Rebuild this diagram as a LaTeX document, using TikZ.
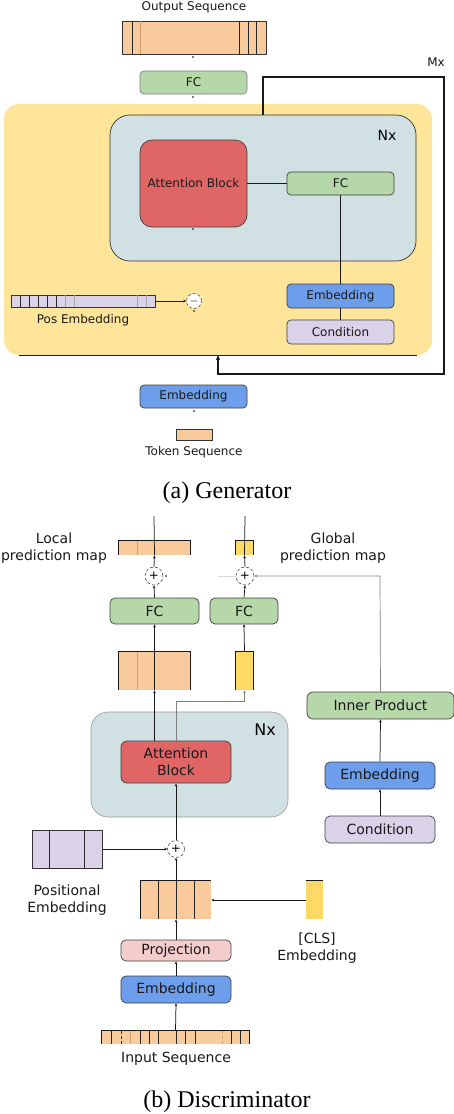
\documentclass[tikz,border=0pt]{standalone}
\usepackage{fontspec}
\setmainfont{DejaVu Sans}
\newfontfamily\capfont{Liberation Serif}
\usetikzlibrary{arrows.meta}
\definecolor{corange}{HTML}{F9CB9C}
\definecolor{cgreen}{HTML}{B6D7A8}
\definecolor{cblue}{HTML}{6D9EEB}
\definecolor{clav}{HTML}{D9D2E9}
\definecolor{cred}{HTML}{E06666}
\definecolor{cpink}{HTML}{F4CCCC}
\definecolor{cyel}{HTML}{FFD966}
\definecolor{clyel}{HTML}{FFE599}
\definecolor{cgb}{HTML}{D0E0E3}
\definecolor{ctan}{HTML}{C8A070}
\tikzset{
  box/.style={draw=black!75, line width=0.7pt, rounded corners=4pt, inner sep=0pt, align=center},
  gtxt/.style={font=\fontsize{12}{14}\selectfont, text=black!90},
  dtxt/.style={font=\fontsize{14}{17}\selectfont, text=black!90},
  bar/.style={draw=black!80, line width=0.7pt, inner sep=0pt},
  cell/.style={draw=black!85, line width=0.7pt},
  conn/.style={draw=black!90, line width=0.75pt},
  gconn/.style={draw=black!50, line width=0.7pt},
  arr/.style={-{Stealth[length=3pt,width=2.6pt]}},
  opc/.style={circle, draw=black!80, densely dashed, line width=0.5pt, fill=white, minimum size=#1, inner sep=0pt, font=\fontsize{12}{12}\selectfont},
  lbl/.style={inner sep=0pt, align=center},
}
\begin{document}
\begin{tikzpicture}[x=1pt,y=-1pt]
\useasboundingbox (0,0) rectangle (454,1114);

% ================= Generator =================
\node[lbl, gtxt] (outtxt) at (194,7) {Output Sequence};
\node[bar, fill=corange, minimum width=144pt, minimum height=33pt] (outseq) at (194,37.5) {};
\foreach \x in {132,239,248,256} \draw[cell] (\x,21) -- (\x,54);
\draw[draw=ctan, line width=0.6pt] (140,21) -- (140,54);
\node[box, gtxt, fill=cgreen, draw=black!50, minimum width=107pt, minimum height=23pt] (genfc) at (193.5,82.5) {FC};

\node[fill=clyel, rounded corners=15pt, minimum width=428pt, minimum height=251pt, inner sep=0pt] (yel) at (218,229.5) {};
\draw[conn] (19,355) -- (417,355);
\node[fill=cgb, draw=black!80, line width=0.7pt, rounded corners=20pt, minimum width=306pt, minimum height=146pt, inner sep=0pt] (nx) at (263,188) {};
\node[lbl, font=\fontsize{14}{14}\selectfont] (nxl) at (387,135) {Nx};
\node[box, gtxt, fill=cred, rounded corners=12pt, minimum width=107pt, minimum height=87pt] (attn) at (193.5,183.5) {Attention Block};
\node[box, gtxt, fill=cgreen, minimum width=107pt, minimum height=23pt] (fc2) at (340.5,183.5) {FC};
\node[box, gtxt, fill=cblue, minimum width=107pt, minimum height=24pt] (emb2) at (340.5,296) {Embedding};
\node[box, gtxt, fill=clav, minimum width=107pt, minimum height=24pt] (cond) at (340.5,332) {Condition};
\draw[conn] (attn.east) -- (fc2.west);
\draw[conn] (fc2.south) -- (emb2.north);
\draw[conn] (emb2.south) -- (cond.north);

\node[bar, fill=clav, minimum width=144pt, minimum height=12pt] (posbar) at (83,301) {};
\foreach \x in {20,29,38,47,56} \draw[cell] (\x,295) -- (\x,307);
\foreach \x in {65,74,137,146} \draw[draw=black!35, line width=0.6pt] (\x,295) -- (\x,307);
\node[lbl, gtxt] (posl) at (83,320) {Pos Embedding};
\node[opc=15pt] (minus) at (194,301) {$-$};
\draw[conn, arr] (posbar.east) -- (minus.west);

\node[box, gtxt, fill=cblue, minimum width=107pt, minimum height=23pt] (emb1) at (193.5,396.5) {Embedding};
\node[bar, fill=corange, minimum width=36pt, minimum height=11pt] (tok) at (194,434.5) {};
\node[lbl, gtxt] (tokl) at (194,452) {Token Sequence};

\coordinate (mxa) at (444,77);
\coordinate (mxb) at (444,374);
\draw[line width=1.3pt, draw=black!90, -{Stealth[length=5pt,width=4.5pt]}] (nx.north) |- (mxa) -- (mxb) -| (yel.south);
\node[lbl, gtxt] (mxl) at (436,62) {Mx};

\foreach \p in {(193,57),(193,97),(193,229),(194,311),(194,411)} \fill[black] \p circle (0.9);

\node[lbl, font=\capfont\fontsize{24}{28}\selectfont] (capa) at (227,493) {(a) Generator};

% ================= Discriminator =================
\coordinate (topL) at (154,516);
\coordinate (topG) at (245,516);
\node[bar, fill=corange, draw=none, minimum width=71pt, minimum height=14pt] (lmap) at (154.5,548) {};
\draw[conn] (lmap.south west) -- (lmap.north west) -- (lmap.north east) -- (lmap.south east);
\draw[draw=ctan, line width=0.6pt] (137,541) -- (137,555);
\node[bar, fill=cyel, draw=none, minimum width=17pt, minimum height=14pt] (gmap) at (244.5,548) {};
\draw[conn] (gmap.south west) -- (gmap.north west) -- (gmap.north east) -- (gmap.south east);
\node[lbl, dtxt] (lmapl) at (54,548) {Local\\prediction map};
\node[lbl, dtxt] (gmapl) at (333,548) {Global\\prediction map};

\node[opc=18pt] (p1) at (154,576) {+};
\node[opc=18pt] (p2) at (245,576) {+};
\node[box, dtxt, fill=cgreen, rounded corners=5pt, minimum width=89pt, minimum height=26pt] (fcL) at (154.5,611) {FC};
\node[box, dtxt, fill=cgreen, rounded corners=5pt, minimum width=68pt, minimum height=26pt] (fcG) at (244,611) {FC};
\node[bar, fill=corange, draw=none, minimum width=71pt, minimum height=38pt] (featL) at (154.5,671) {};
\draw[conn] (featL.south west) -- (featL.north west) -- (featL.north east) -- (featL.south east);
\draw[draw=ctan, line width=0.6pt] (137,652) -- (137,690);
\node[bar, fill=cyel, draw=none, minimum width=17pt, minimum height=38pt] (featG) at (244.5,671) {};
\draw[conn] (featG.south west) -- (featG.north west) -- (featG.north east) -- (featG.south east);

\node[box, dtxt, fill=cgreen, rounded corners=6pt, minimum width=147pt, minimum height=27pt] (inner) at (380.5,705.5) {Inner Product};
\node[fill=cgb, draw=black!40, line width=0.6pt, rounded corners=17pt, minimum width=197pt, minimum height=105pt, inner sep=0pt] (nx2) at (189.5,764.5) {};
\node[lbl, font=\fontsize{16}{16}\selectfont] (nx2l) at (265,730) {Nx};
\node[box, dtxt, fill=cred, rounded corners=6pt, minimum width=110pt, minimum height=42pt] (attn2) at (176,762) {Attention\\Block};
\node[box, dtxt, fill=cblue, rounded corners=5pt, minimum width=110pt, minimum height=27pt] (embR) at (380,775.5) {Embedding};
\node[box, dtxt, fill=clav, rounded corners=5pt, minimum width=110pt, minimum height=27pt] (condR) at (380,829.5) {Condition};

\node[opc=17pt] (p3) at (176,849) {+};
\node[bar, fill=clav, minimum width=70pt, minimum height=38pt] (posbox) at (67,849) {};
\foreach \x in {49,84} \draw[cell] (\x,830) -- (\x,868);
\node[lbl, dtxt] (posboxl) at (67,900) {Positional\\Embedding};

\node[bar, fill=corange, draw=none, minimum width=70pt, minimum height=38pt] (tokbox) at (176,900) {};
\draw[conn] (tokbox.south west) -- (tokbox.north west) -- (tokbox.north east);
\foreach \x in {158,176,194} \draw[cell] (\x,881) -- (\x,919);
\node[bar, fill=cyel, draw=none, minimum width=17pt, minimum height=38pt] (cls) at (314.5,900) {};
\draw[conn] (cls.north west) -- (cls.north east);
\node[lbl, dtxt] (clsl) at (317,948) {[CLS]\\Embedding};

\node[box, dtxt, fill=cpink, rounded corners=5pt, minimum width=110pt, minimum height=21pt] (proj) at (176,950.5) {Projection};
\node[box, dtxt, fill=cblue, rounded corners=5pt, minimum width=110pt, minimum height=27pt] (embD) at (176,989.5) {Embedding};
\node[bar, fill=corange, draw=none, minimum width=147pt, minimum height=13pt] (inseq) at (175.5,1037.5) {};
\draw[conn] (inseq.south west) -- (inseq.north west) -- (inseq.north east) -- (inseq.south east);
\foreach \x in {111,140,149,158,176,185,195,231,240} \draw[cell] (\x,1031) -- (\x,1044);
\draw[draw=red!60!black, densely dashed, line width=0.5pt] (121,1031) -- (121,1044);
\draw[draw=ctan, line width=0.6pt] (130,1031) -- (130,1044);
\draw[draw=ctan, densely dashed, line width=0.6pt] (222,1031) -- (222,1044);
\node[lbl, dtxt] (inseql) at (176,1059) {Input Sequence};

% connectors
\draw[conn] (lmap.south) -- (topL);
\draw[conn, arr] (p1.north) -- (lmap.south);
\draw[conn, arr] (fcL.north) -- (p1.south);
\draw[conn, arr] (featL.north) -- (fcL.south);
\draw[conn] (featL.south) -- (featL.north);
\draw[conn, arr] (attn2.north -| featL.south) -- (featL.south);
\draw[conn] (gmap.south) -- (topG);
\draw[conn, arr] (p2.north) -- (gmap.south);
\draw[conn, arr] (fcG.north) -- (p2.south);
\draw[conn, arr] (featG.north) -- (fcG.south);
\coordinate (gk) at (176,701);
\draw[gconn, arr] (attn2.north) -- (gk) -| (featG.south);
\coordinate (ik) at (380,576);
\draw[gconn, arr] (inner.north) -- (ik) -- (p2.east);
\coordinate (faint) at (218,576);
\draw[draw=black!15, line width=0.6pt] (faint) -- (p2.west);
\fill[black] (166,576) circle (0.9);
\draw[conn, arr] (embR.north) -- (inner.south);
\draw[conn, arr] (condR.north) -- (embR.south);
\draw[conn, arr] (p3.north) -- (attn2.south);
\draw[conn, arr] (posbox.east) -- (p3.west);
\draw[conn, arr] (tokbox.north) -- (p3.south);
\draw[conn, arr] (proj.north) -- (tokbox.south);
\draw[conn, arr] (cls.west) -- (tokbox.east);
\draw[conn, arr] (embD.north) -- (proj.south);
\draw[conn, arr] (inseq.north) -- (embD.south);

\node[lbl, font=\capfont\fontsize{24}{28}\selectfont] (capb) at (227,1102) {(b) Discriminator};
\end{tikzpicture}
\end{document}
